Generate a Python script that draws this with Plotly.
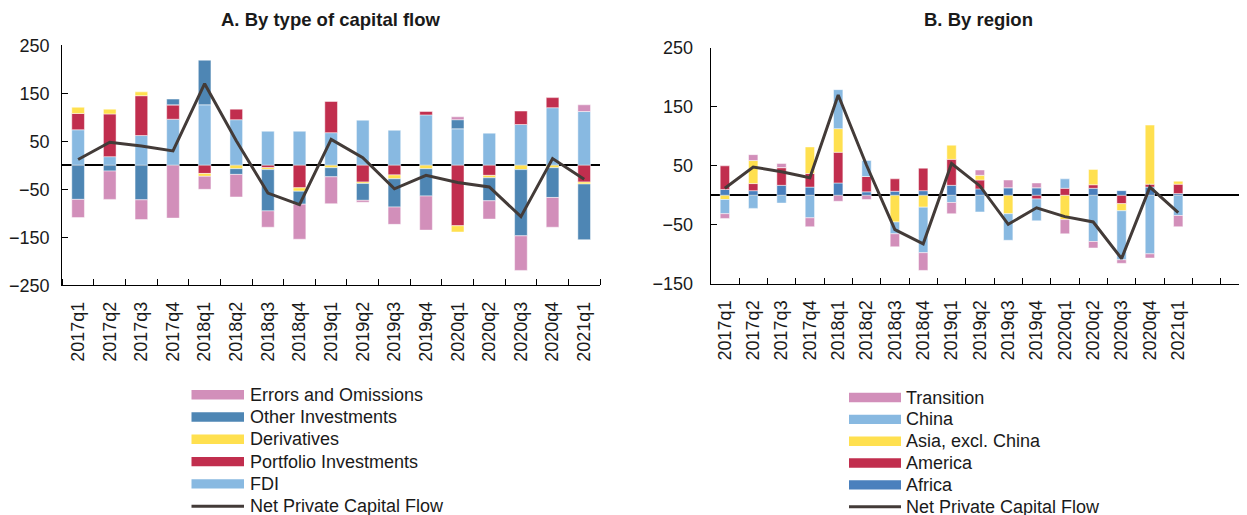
import plotly.graph_objects as go

# ---------------- data ----------------
quarters = ["2017q1", "2017q2", "2017q3", "2017q4", "2018q1", "2018q2", "2018q3", "2018q4",
            "2019q1", "2019q2", "2019q3", "2019q4", "2020q1", "2020q2", "2020q3", "2020q4", "2021q1"]

# Panel A: by type of capital flow
fdi = [74, 18, 62, 96, 126, 95, 71, 71, 68, 94, 73, 105, 76, 67, 85, 120, 112]
portfolio = [34, 89, 83, 30, -17, 22, -5, -47, 65, -35, -20, 7, -126, -21, 28, 21, -35]
derivatives = [13, 10, 8, 0, -6, -7, -4, -7, -5, -3, -8, -7, -13, -5, -9, -5, -4]
other_inv = [-71, -12, -72, 12, 93, -12, -86, -27, -19, -35, -59, -57, 19, -48, -138, -62, -116]
errors = [-38, -59, -41, -110, -27, -47, -34, -73, -56, -4, -36, -71, 6, -38, -72, -62, 14]

# Panel B: by region
africa = [10, 8, 17, 14, 21, 6, 7, 8, 17, 11, 13, 13, 0, 12, 8, 14, 3]
america = [40, 12, 30, 23, 52, 26, 21, 38, 44, 15, 0, -6, 12, 6, -14, 5, 16]
asia_ex_china = [-7, 39, 0, 45, 40, 0, -45, -20, 24, 8, -31, 0, -41, 26, -12, 100, 5]
china = [-24, -22, -13, -38, 66, 27, -20, -77, -12, -28, -45, -37, 16, -78, -83, -99, -34]
transition = [-8, 10, 7, -15, -10, -7, -22, -30, -19, 9, 13, 8, -24, -11, -6, -7, -19]

net_flow = [12, 48, 40, 30, 170, 51, -58, -82, 54, 16, -49, -21, -36, -45, -107, 14, -29]

y_ticks = [-250, -150, -50, 50, 150, 250]
y_ticks_b = [-150, -50, 50, 150, 250]

# ---------------- style ----------------
W, H = 1247, 515
OFF = 8  # page body margin
C_ERR = "#D28FBA"
C_OTH = "#4E86B4"
C_DER = "#FFE04F"
C_POR = "#C12E4E"
C_FDI = "#88B9E1"
C_AFR = "#4A80BD"
C_NET = "#433B38"
FONT = "Liberation Sans, Arial, sans-serif"
TXT = "#1a1a1a"

pos = list(range(len(quarters)))


def px(x):
    return (x - OFF) / W


def py(y):
    return 1 - (y - OFF) / H


fig = go.Figure()

series_a = [("FDI", fdi, C_FDI), ("Portfolio Investments", portfolio, C_POR),
            ("Derivatives", derivatives, C_DER), ("Other Investments", other_inv, C_OTH),
            ("Errors and Omissions", errors, C_ERR)]
for name, vals, col in series_a:
    fig.add_trace(go.Bar(x=pos, y=vals, name=name, marker=dict(color=col, line=dict(color="rgba(255,255,255,0.6)", width=0.8)),
                         width=0.4, xaxis="x", yaxis="y", showlegend=False))
fig.add_trace(go.Scatter(x=pos, y=net_flow, mode="lines", name="Net Private Capital Flow",
                         line=dict(color=C_NET, width=3), xaxis="x", yaxis="y", showlegend=False))

series_b = [("Africa", africa, C_AFR), ("America", america, C_POR),
            ("Asia, excl. China", asia_ex_china, C_DER), ("China", china, C_FDI),
            ("Transition", transition, C_ERR)]
for name, vals, col in series_b:
    fig.add_trace(go.Bar(x=pos, y=vals, name=name, marker=dict(color=col, line=dict(color="rgba(255,255,255,0.6)", width=0.8)),
                         width=0.33, xaxis="x2", yaxis="y2", showlegend=False))
fig.add_trace(go.Scatter(x=pos, y=net_flow, mode="lines", name="Net Private Capital Flow",
                         line=dict(color=C_NET, width=3), xaxis="x2", yaxis="y2", showlegend=False))

xa_common = dict(
    automargin=False,
    showline=True, linecolor="black", linewidth=1.3, showgrid=False, zeroline=False,
    tickmode="array", tickvals=pos, ticktext=quarters, tickangle=-90, ticks="",
    tickfont=dict(family=FONT, size=18, color=TXT), ticklabelstandoff=8,
    minor=dict(ticks="inside", ticklen=6, tickcolor="black", tickwidth=1.3, tick0=0.5, dtick=1, showgrid=False),
)
ya_common = dict(
    automargin=False,
    showline=True, linecolor="black", linewidth=1.3, showgrid=False,
    zeroline=True, zerolinecolor="black", zerolinewidth=1.5,
    ticks="inside", ticklen=6, tickcolor="black", tickwidth=1.3,
    tickfont=dict(family=FONT, size=18, color=TXT),
)

fig.update_layout(
    template="none",
    width=W, height=H, margin=dict(l=0, r=0, t=0, b=0, pad=0, autoexpand=False),
    paper_bgcolor="white", plot_bgcolor="white",
    barmode="relative", showlegend=False,
    xaxis=dict(domain=[px(62.3), px(600)], range=[-0.5, 16.5], anchor="y", **xa_common),
    yaxis=dict(domain=[py(285.3), py(45.3)], range=[-250, 250], tickvals=y_ticks, anchor="x",
               ticklabelstandoff=8, **ya_common),
    xaxis2=dict(domain=[px(710.7), px(1240)], range=[-0.5, 18.18], anchor="y2", **xa_common),
    yaxis2=dict(domain=[py(284), py(47.7)], range=[-150, 250], tickvals=y_ticks_b, anchor="x2",
                ticklabelstandoff=13, **ya_common),
)

# titles
fig.add_annotation(text="<b>A. By type of capital flow</b>", x=px(331), y=py(20), xref="paper", yref="paper",
                   showarrow=False, xanchor="center", yanchor="middle", font=dict(family=FONT, size=18.5, color=TXT))
fig.add_annotation(text="<b>B. By region</b>", x=px(978), y=py(20), xref="paper", yref="paper",
                   showarrow=False, xanchor="center", yanchor="middle", font=dict(family=FONT, size=18.5, color=TXT))

# legends (drawn as swatches + text)
leg_a = [("Errors and Omissions", C_ERR, "bar"), ("Other Investments", C_OTH, "bar"), ("Derivatives", C_DER, "bar"),
         ("Portfolio Investments", C_POR, "bar"), ("FDI", C_FDI, "bar"), ("Net Private Capital Flow", C_NET, "line")]
leg_b = [("Transition", C_ERR, "bar"), ("China", C_FDI, "bar"), ("Asia, excl. China", C_DER, "bar"),
         ("America", C_POR, "bar"), ("Africa", C_AFR, "bar"), ("Net Private Capital Flow", C_NET, "line")]


def draw_legend(items, x0, x1, xt, y0, dy):
    for i, (name, col, kind) in enumerate(items):
        yc = y0 + i * dy
        if kind == "bar":
            fig.add_shape(type="rect", xref="paper", yref="paper", x0=px(x0), x1=px(x1),
                          y0=py(yc + 4.7), y1=py(yc - 4.7), fillcolor=col, line=dict(width=0))
        else:
            fig.add_shape(type="line", xref="paper", yref="paper", x0=px(x0), x1=px(x1),
                          y0=py(yc), y1=py(yc), line=dict(color=col, width=3))
        fig.add_annotation(text=name, x=px(xt), y=py(yc), xref="paper", yref="paper", showarrow=False,
                           xanchor="left", yanchor="middle", font=dict(family=FONT, size=18, color=TXT))


draw_legend(leg_a, 191.5, 244, 248, 394.7, 22.3)
draw_legend(leg_b, 849, 901, 904, 397.5, 21.85)

fig.write_html("out.html")
